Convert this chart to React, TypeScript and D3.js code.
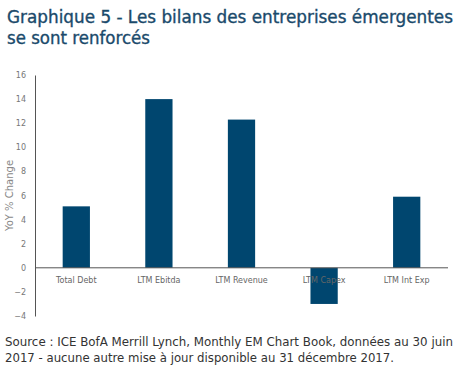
import React, { useEffect, useRef } from "react";
import { scaleBand, scaleLinear, select, axisLeft } from "d3";

const categories = ["Total Debt", "LTM Ebitda", "LTM Revenue", "LTM Capex", "LTM Int Exp"];
const values = [5.1, 14.0, 12.3, -3.0, 5.9];
const yTicks = [-4, -2, 0, 2, 4, 6, 8, 10, 12, 14, 16];
const titleLines = ["Graphique 5 - Les bilans des entreprises émergentes", "se sont renforcés"];
const sourceLines = [
  "Source : ICE BofA Merrill Lynch, Monthly EM Chart Book, données au 30 juin",
  "2017 - aucune autre mise à jour disponible au 31 décembre 2017.",
];

const W = 466;
const H = 370;
const left = 35;
const right = 448;
const top = 75;
const bottom = 316;
const font = "DejaVu Sans, Verdana, sans-serif";

export default function App() {
  const axisRef = useRef(null);
  const x = scaleBand().domain(categories).range([left, right]).paddingInner(0.67).paddingOuter(0.335);
  const y = scaleLinear().domain([-4, 16]).range([bottom, top]);

  useEffect(() => {
    const g = select(axisRef.current);
    g.selectAll("*").remove();
    g.attr("transform", `translate(${left},0)`)
      .call(axisLeft(y).tickValues(yTicks).tickSize(0).tickPadding(9));
    g.select(".domain").attr("stroke", "#555").attr("stroke-width", 1);
    g.selectAll(".tick text")
      .attr("fill", "#777")
      .style("font-family", font)
      .style("font-size", "8px");
  }, []);

  return (
    <svg width={W} height={H} style={{ position: "absolute", left: 0, top: 0, background: "#fff" }}>
      <g fill="#1a4a6b" stroke="#1a4a6b" strokeWidth={0.35} style={{ fontFamily: font, fontSize: 17 }}>
        <text x={7} y={23} textLength={446} lengthAdjust="spacingAndGlyphs">{titleLines[0]}</text>
        <text x={7} y={44} textLength={143} lengthAdjust="spacingAndGlyphs">{titleLines[1]}</text>
      </g>
      <g ref={axisRef} />
      {categories.map((c, i) => (
        <rect
          key={c}
          x={x(c)}
          width={x.bandwidth()}
          y={y(Math.max(0, values[i]))}
          height={Math.abs(y(values[i]) - y(0))}
          fill="#00466f"
        />
      ))}
      <line x1={left} x2={right} y1={y(0)} y2={y(0)} stroke="#555" strokeWidth={1} />
      {categories.map((c) => (
        <text
          key={c}
          x={(x(c) as number) + x.bandwidth() / 2}
          y={y(0) + 15}
          textAnchor="middle"
          fill="#666"
          style={{ fontFamily: font, fontSize: 8 }}
        >
          {c}
        </text>
      ))}
      <text
        transform={`translate(13,${(top + bottom) / 2}) rotate(-90)`}
        textAnchor="middle"
        fill="#888"
        style={{ fontFamily: font, fontSize: 10 }}
      >
        YoY % Change
      </text>
      <g fill="#333" style={{ fontFamily: font, fontSize: 12 }}>
        <text x={5} y={345.5} textLength={448} lengthAdjust="spacingAndGlyphs">{sourceLines[0]}</text>
        <text x={5} y={362} textLength={389} lengthAdjust="spacingAndGlyphs">{sourceLines[1]}</text>
      </g>
    </svg>
  );
}
